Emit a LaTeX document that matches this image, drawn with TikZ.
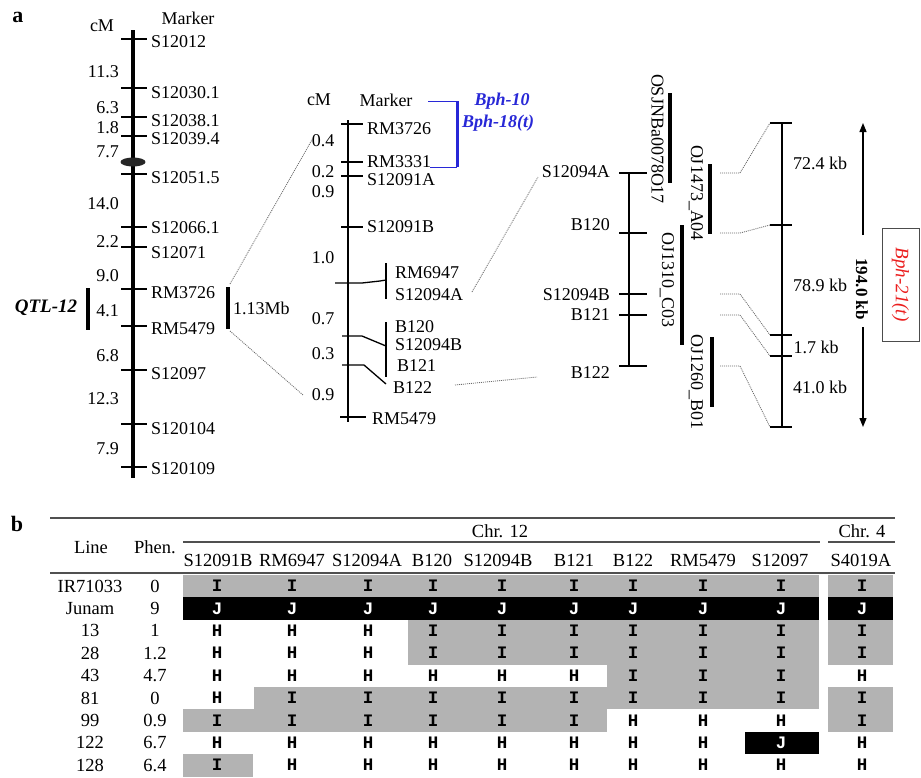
\documentclass[tikz,border=0pt]{standalone}
\usepackage{fontspec}
\setmainfont{Liberation Serif}
\newfontfamily\cellfont{Liberation Mono}
\usetikzlibrary{arrows.meta}
\definecolor{bphblue}{RGB}{40,40,215}
\definecolor{bphred}{RGB}{235,30,30}
\definecolor{cellgray}{RGB}{179,179,179}
\definecolor{rulegray}{RGB}{80,80,80}
\definecolor{dotgray}{RGB}{105,105,105}
\begin{document}
\begin{tikzpicture}[x=1pt,y=-1pt,
  every node/.style={inner sep=0pt},
  txt/.style={font=\fontsize{18}{21}\selectfont},
  mk/.style={txt,anchor=west},
  rnum/.style={txt,anchor=east},
  chrthick/.style={line width=3.6pt},
  chrthin/.style={line width=1.2pt},
  tk/.style={line width=1.3pt},
  bar/.style={line width=3.6pt},
  dots/.style={dotgray,line width=0.8pt,dash pattern=on 1pt off 1pt},
  rule/.style={rulegray,line width=1.4pt},
  tab/.style={font=\fontsize{18.5}{21}\selectfont},
  cellv/.style={font=\cellfont\bfseries\fontsize{17.5}{20}\selectfont},
  panel/.style={font=\bfseries\fontsize{22}{24}\selectfont},
  arr/.style={line width=1.3pt,-{Triangle[length=9pt,width=7pt]}}]
\fill[white] (0,0) rectangle (921,777);
\useasboundingbox (0,0) rectangle (921,777);

% ---------- panel a: left linkage map ----------
\node[panel] (pa) at (18,17) {a};
\node[txt] (cmL) at (102,26) {cM};
\node[txt] (mkL) at (188,18) {Marker};
\draw[chrthick] (133,30) coordinate (Ltop) -- (133,478) coordinate (Lbot);
\foreach \ty/\ly/\lab [count=\i] in {39/42/S12012, 88/93/S12030.1, 117/121/S12038.1, 136/139/S12039.4, 174/178/S12051.5, 227/228/S12066.1, 247/253/S12071, 289/293/RM3726, 326/329/RM5479, 370/374/S12097, 424/429/S120104, 467/469/S120109}
{ \draw[tk] (121,\ty) -- (147,\ty); \node[mk] (Lm\i) at (151,\ly) {\lab}; }
\foreach \y/\v [count=\i] in {72/11.3,108/6.3,128/1.8,152/7.7,204/14.0,242/2.2,276/9.0,311/4.1,356/6.8,399/12.3,449/7.9}
{ \node[rnum] (Lc\i) at (119,\y) {\v}; }
\fill[black!85] (133,162) ellipse [x radius=12.5pt, y radius=4.5pt];
\node[font=\bfseries\itshape\fontsize{19}{21}\selectfont] (qtl) at (46,308) {QTL-12};
\draw[bar] (88,288) -- (88,330);
\draw[bar] (228,287) coordinate (mbT) -- (228,329) coordinate (mbB);
\node[mk] (mb) at (233,308) {1.13Mb};

% ---------- middle fine map ----------
\node[txt] (cmM) at (319,100) {cM};
\node[txt] (mkM) at (386,100) {Marker};
\draw[chrthin] (348,120) -- (348,422);
\foreach \ty/\ly/\lab [count=\i] in {124/129/RM3726, 162/162/RM3331, 176/180/S12091A, 227/227/S12091B}
{ \draw[tk] (341,\ty) -- (363,\ty); \node[mk] (Mm\i) at (367,\ly) {\lab}; }
\draw[tk] (340,417) -- (366,417);
\node[mk] (Mrm5479) at (372,419) {RM5479};
\draw[tk] (335,283) -- (362,283) -- (380,281) -- (386,280);
\draw[tk] (386,263) -- (386,299);
\node[mk] (Mrm6947) at (395,273) {RM6947};
\node[mk] (Ms94a) at (395,295) {S12094A};
\draw[tk] (342,336) -- (362,336) -- (386,346);
\draw[tk] (386,322) -- (386,377);
\node[mk] (Mb120) at (395,327) {B120};
\node[mk] (Ms94b) at (395,345) {S12094B};
\node[mk] (Mb121) at (397,366) {B121};
\draw[tk] (342,365) -- (364,365) -- (386,384);
\node[mk] (Mb122) at (393,388) {B122};
\foreach \y/\v [count=\i] in {141/0.4,172/0.2,192/0.9,258/1.0,319/0.7,354/0.3,395/0.9}
{ \node[txt] (Mc\i) at (323,\y) {\v}; }

% blue bracket
\draw[bphblue,line width=0.6pt] (428,101) -- (457,101);
\draw[bphblue,line width=0.6pt] (430,167) -- (457,167);
\draw[bphblue,line width=3pt] (457,101) -- (457,167);
\node[font=\bfseries\itshape\fontsize{18}{20}\selectfont,text=bphblue] (b10) at (502,101) {Bph-10};
\node[font=\bfseries\itshape\fontsize{18}{20}\selectfont,text=bphblue] (b18) at (498,123) {Bph-18(t)};

% dotted connectors
\coordinate (mTop) at (313,138);
\coordinate (mBot) at (303,395);
\draw[dots] (230,284) -- (mTop);
\draw[dots] (230,331) -- (mBot);
\draw[dots] (472,292) -- (538,177);
\draw[dots] (455,385) -- (537,377);

% ---------- physical map ----------
\draw[chrthin] (629,173) -- (629,366);
\foreach \ty/\ly/\lab [count=\i] in {173/171.5/S12094A, 233/225/B120, 294/295/S12094B, 315/315/B121, 366/373/B122}
{ \draw[tk] (619,\ty) -- (647,\ty); \node[rnum] (Pm\i) at (610,\ly) {\lab}; }
\draw[bar] (670,93) -- (670,183);
\draw[bar] (710,164) -- (710,234);
\draw[bar] (682,225) -- (682,345);
\draw[bar] (712,337) -- (712,407);
\node[txt,rotate=-90] (bac1) at (657.5,139) {OSJNBa0078O17};
\node[txt,rotate=-90] (bac2) at (696,193) {OJ1473\_A04};
\node[txt,rotate=-90] (bac3) at (667,280) {OJ1310\_C03};
\node[txt,rotate=-90] (bac4) at (696,382) {OJ1260\_B01};

\foreach \y/\t in {173/123, 233/225, 294/335, 315/356, 366/427}
{ \draw[dots] (720,\y) -- (740,\y) -- (770,\t); }

% kb scale
\draw[chrthin] (782,123) -- (782,427);
\foreach \t in {123,225,335,356,427} { \draw[tk] (770,\t) -- (792,\t); }
\node[txt] (k1) at (820,163) {72.4 kb};
\node[txt] (k2) at (820,285) {78.9 kb};
\node[txt] (k3) at (816,347) {1.7 kb};
\node[txt] (k4) at (820,387) {41.0 kb};

\node[font=\bfseries\fontsize{17}{20}\selectfont,rotate=-90] (kb194) at (862,289) {194.0 kb};
\coordinate (arT) at (863,123);
\coordinate (arB) at (863,427);
\draw[arr] (863,235) -- (arT);
\draw[arr] (863,327) -- (arB);
\node[draw=black!70,line width=0.8pt,rotate=-90,minimum width=113pt,minimum height=37pt,
      text=bphred,font=\itshape\fontsize{19}{21}\selectfont] (bph21) at (900.5,284.5) {Bph-21(t)};

% ---------- panel b: table ----------
\node[panel] (pb) at (17,524) {b};
\draw[rule] (50,518) -- (895,518);
\node[tab] (chr12) at (500,531) {Chr. 12};
\node[tab] (chr4) at (862,531) {Chr. 4};
\draw[rule,line width=1.1pt] (183,542) -- (820,542);
\draw[rule,line width=1.1pt] (828,542) -- (895,542);
\node[tab] (hline) at (91,547) {Line};
\node[tab] (hphen) at (155,547) {Phen.};
\foreach \x/\h [count=\i] in {218/S12091B,292/RM6947,367/S12094A,432/B120,498/S12094B,574/B121,633/B122,703/RM5479,780/S12097,861/S4019A}
{ \node[tab] (hd\i) at (\x,560) {\h}; }
\draw[rule] (50,573) -- (895,573);

% shading
\fill[cellgray] (183,575) rectangle (819,597.4);
\fill[cellgray] (828,575) rectangle (893,597.4);
\fill[black] (183,597.4) rectangle (819,619.8);
\fill[black] (828,597.4) rectangle (893,619.8);
\fill[cellgray] (408,619.8) rectangle (819,664.6);
\fill[cellgray] (828,619.8) rectangle (893,664.6);
\fill[cellgray] (607,664.6) rectangle (819,687);
\fill[cellgray] (254,687) rectangle (819,709.4);
\fill[cellgray] (828,687) rectangle (893,731.8);
\fill[cellgray] (183,709.4) rectangle (607,731.8);
\fill[black] (745,731.8) rectangle (819,754.2);
\fill[cellgray] (183,754.2) rectangle (253,776.6);

\def\tmpJ{J}
\foreach \ln/\ph/\vals [count=\r from 0] in {
  IR71033/0/{I,I,I,I,I,I,I,I,I,I},
  Junam/9/{J,J,J,J,J,J,J,J,J,J},
  13/1/{H,H,H,I,I,I,I,I,I,I},
  28/1.2/{H,H,H,I,I,I,I,I,I,I},
  43/4.7/{H,H,H,H,H,H,I,I,I,H},
  81/0/{H,I,I,I,I,I,I,I,I,I},
  99/0.9/{I,I,I,I,I,I,H,H,H,I},
  122/6.7/{H,H,H,H,H,H,H,H,J,H},
  128/6.4/{I,H,H,H,H,H,H,H,H,H}}
{
  \pgfmathsetmacro\yy{586+22.4*\r}
  \node[tab] (ln\r) at (90,\yy) {\ln};
  \node[tab] (ph\r) at (155,\yy) {\ph};
  \foreach \v [count=\c from 0] in \vals {
    \pgfmathsetmacro\xx{{217,292,368,433,502,574,633,703,781,862}[\c]}
    \edef\tmpv{\v}
    \ifx\tmpv\tmpJ\def\tc{white}\else\def\tc{black}\fi
    \node[cellv,text=\tc] (v\r-\c) at (\xx,\yy) {\v};
  }
}
\end{tikzpicture}
\end{document}
